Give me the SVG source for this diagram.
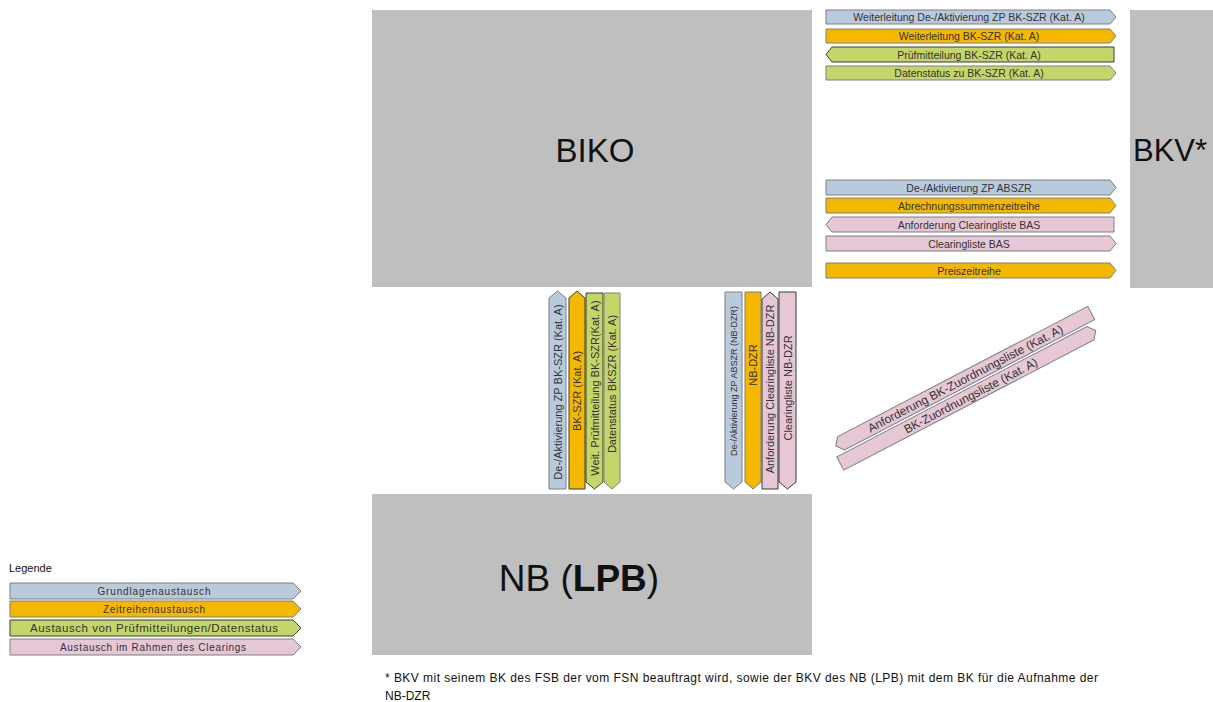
<svg xmlns="http://www.w3.org/2000/svg" width="1213" height="702" viewBox="0 0 1213 702">
<style>
.box{fill:#bfbfbf}
.big{font-family:"Liberation Sans",Arial,sans-serif;fill:#111}
.a{stroke:#7f7f7f;stroke-width:1}
.a2{stroke:#3a3a3a;stroke-width:1}
.b{fill:#b9cadc}
.o{fill:#f5b800}
.gr{fill:#c4d66a}
.p{fill:#e6c7d6}
.t{font-family:"Liberation Sans",Arial,sans-serif;font-size:10.5px;fill:#333;text-anchor:middle}
.v{font-family:"Liberation Sans",Arial,sans-serif;font-size:11px;fill:#333;text-anchor:middle}
.lg{font-family:"Liberation Sans",Arial,sans-serif;font-size:10px;fill:#333;text-anchor:middle}
.fn{font-family:"Liberation Sans",Arial,sans-serif;font-size:12px;fill:#111}
</style>
<rect width="1213" height="702" fill="#ffffff"/>
<g id="node-biko">
<rect class="box" x="372" y="10" width="440" height="277"/>
<text class="big" x="595" y="162" style="font-size:33px" text-anchor="middle">BIKO</text>
</g>
<g id="node-bkv">
<rect class="box" x="1130" y="10" width="90" height="278"/>
<text class="big" x="1133" y="161" style="font-size:31px">BKV*</text>
</g>
<g id="node-nb">
<rect class="box" x="372" y="494" width="440" height="161"/>
<text class="big" x="579" y="591" style="font-size:37px" text-anchor="middle">NB (<tspan font-weight="bold">LPB</tspan>)</text>
</g>
<g id="connectors">
<polygon class="a b" points="826,10 1110,10 1116,17 1110,24 826,24"/>
<text class="t" x="969" y="21">Weiterleitung De-/Aktivierung ZP BK-SZR (Kat. A)</text>
<polygon class="a o" points="826,29 1110,29 1116,36 1110,43 826,43"/>
<text class="t" x="969" y="40">Weiterleitung BK-SZR (Kat. A)</text>
<polygon class="a2 gr" points="832,47 1114,47 1114,62 832,62 826,54.5"/>
<text class="t" x="969" y="58.5">Prüfmitteilung BK-SZR (Kat. A)</text>
<polygon class="a gr" points="826,66 1110,66 1116,73 1110,80 826,80"/>
<text class="t" x="969" y="77">Datenstatus zu BK-SZR (Kat. A)</text>
<polygon class="a b" points="826,180 1110,180 1116,187.5 1110,195 826,195"/>
<text class="t" x="969" y="191.5">De-/Aktivierung ZP ABSZR</text>
<polygon class="a o" points="826,198 1110,198 1116,205.5 1110,213 826,213"/>
<text class="t" x="969" y="209.5">Abrechnungssummenzeitreihe</text>
<polygon class="a p" points="832,217 1114,217 1114,232 832,232 826,224.5"/>
<text class="t" x="969" y="228.5">Anforderung Clearingliste BAS</text>
<polygon class="a p" points="826,236 1110,236 1116,243.5 1110,251 826,251"/>
<text class="t" x="969" y="247.5">Clearingliste BAS</text>
<polygon class="a o" points="826,263 1110,263 1116,270.5 1110,278 826,278"/>
<text class="t" x="969" y="274.5">Preiszeitreihe</text>
<polygon class="a b" points="549,298 557.5,291 566,298 566,489 549,489"/>
<text class="v" transform="translate(561.5,392) rotate(-90)">De-/Aktivierung ZP BK-SZR (Kat. A)</text>
<polygon class="a2 o" points="569,298 577,291 585,298 585,489 569,489"/>
<text class="v" transform="translate(581,391) rotate(-90)">BK-SZR (Kat. A)</text>
<polygon class="a2 gr" points="586,293 603,293 603,482 594.5,489 586,482"/>
<text class="v" transform="translate(598.5,388) rotate(-90)">Weit. Prüfmitteilung BK-SZR(Kat. A)</text>
<polygon class="a gr" points="604,293 620,293 620,482 612,489 604,482"/>
<text class="v" transform="translate(616,384) rotate(-90)">Datenstatus BKSZR (Kat. A)</text>
<polygon class="a b" points="725,292 742,292 742,482 733.5,489 725,482"/>
<text class="v" style="font-size:9px" transform="translate(736.5,381) rotate(-90)">De-/Aktivierung ZP ABSZR (NB-DZR)</text>
<polygon class="a o" points="745,292 761,292 761,482 753,489 745,482"/>
<text class="v" transform="translate(757,365) rotate(-90)">NB-DZR</text>
<polygon class="a2 p" points="762,299 770,292 778,299 778,489 762,489"/>
<text class="v" transform="translate(774,389) rotate(-90)">Anforderung Clearingliste NB-DZR</text>
<polygon class="a2 p" points="779,292 796,292 796,482 787.5,489 779,482"/>
<text class="v" transform="translate(791.5,388) rotate(-90)">Clearingliste NB-DZR</text>
<g transform="translate(963.5,379.5) rotate(-27.5)">
<polygon class="a p" points="-138,-7.5 144,-7.5 144,7.5 -138,7.5 -144,0"/>
<text class="t" x="2" y="4.2" style="font-size:12px">Anforderung BK-Zuordnungsliste (Kat. A)</text>
</g>
<g transform="translate(968,397) rotate(-27.5)">
<polygon class="a p" points="-144,-7.5 138,-7.5 144,0 138,7.5 -144,7.5"/>
<text class="t" x="3" y="4.2" style="font-size:12px">BK-Zuordnungsliste (Kat. A)</text>
</g>
</g>
<g id="legend">
<text class="fn" x="9" y="572" style="font-size:11px">Legende</text>
<polygon class="a b" points="10,583 293,583 301,591 293,599 10,599"/>
<text class="lg" x="154" y="594.5" textLength="113">Grundlagenaustausch</text>
<polygon class="a o" points="10,601 293,601 301,609 293,617 10,617"/>
<text class="lg" x="154" y="612.5" textLength="102">Zeitreihenaustausch</text>
<polygon class="a2 gr" points="10,620 293,620 301,628 293,636 10,636"/>
<text class="lg" x="154" y="632" style="font-size:11.5px" textLength="248">Austausch von Prüfmitteilungen/Datenstatus</text>
<polygon class="a p" points="10,639 293,639 301,647 293,655 10,655"/>
<text class="lg" x="153" y="650.5" textLength="186">Austausch im Rahmen des Clearings</text>
</g>
<g id="footnote">
<text class="fn" x="385" y="682" textLength="713">* BKV mit seinem BK des FSB der vom FSN beauftragt wird, sowie der BKV des NB (LPB) mit dem BK für die Aufnahme der</text>
<text class="fn" x="385" y="700">NB-DZR</text>
</g>
</svg>
